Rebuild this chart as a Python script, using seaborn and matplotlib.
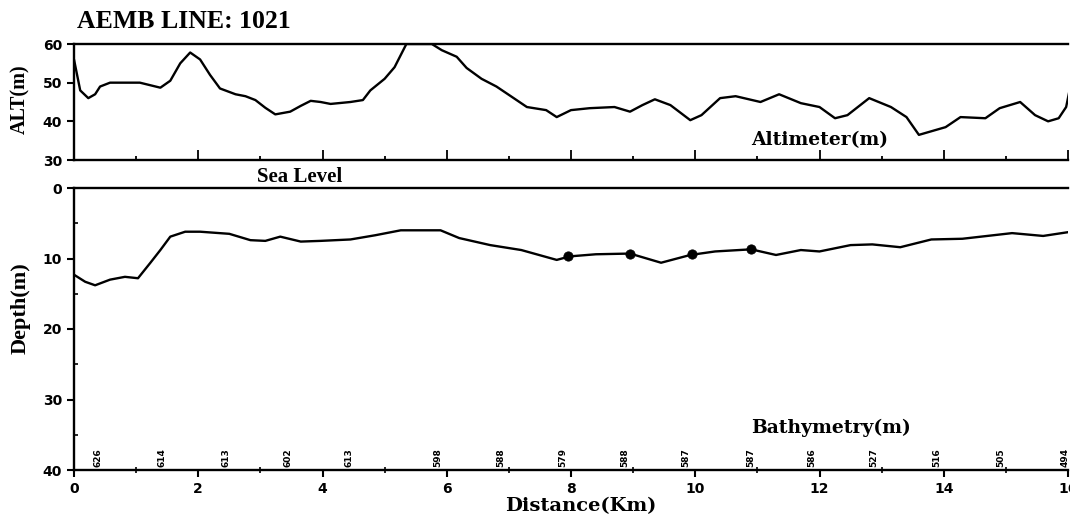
import matplotlib
matplotlib.use("Agg")
import matplotlib.pyplot as plt
from matplotlib.ticker import MultipleLocator
import pandas as pd
import seaborn as sns

# ── Data ────────────────────────────────────────────────────────────────
alt_km = [0.0, 0.1, 0.23, 0.34, 0.42, 0.58, 0.82, 1.06, 1.39, 1.55, 1.71, 1.87,
          2.03, 2.19, 2.35, 2.6, 2.76, 2.92, 3.08, 3.24, 3.48, 3.65, 3.81, 3.97,
          4.13, 4.45, 4.65, 4.77, 5.0, 5.16, 5.35, 5.6, 5.76, 5.92, 6.16, 6.32,
          6.56, 6.8, 7.05, 7.29, 7.6, 7.77, 8.0, 8.3, 8.7, 8.95, 9.15, 9.35, 9.6,
          9.92, 10.1, 10.4, 10.65, 11.05, 11.35, 11.7, 12.0, 12.25, 12.45, 12.8,
          13.15, 13.4, 13.6, 14.03, 14.27, 14.67, 14.9, 15.23, 15.47, 15.68,
          15.85, 15.97, 16.05]
alt_m = [56.0, 48.0, 46.0, 47.0, 49.0, 50.0, 50.0, 50.0, 48.7, 50.5, 55.0, 57.8,
         56.0, 52.0, 48.5, 47.0, 46.5, 45.5, 43.5, 41.8, 42.5, 44.0, 45.3, 45.0,
         44.5, 45.0, 45.5, 48.0, 51.0, 54.0, 60.0, 60.0, 60.0, 58.4, 56.7, 53.8,
         51.0, 49.0, 46.3, 43.7, 42.9, 41.1, 42.9, 43.4, 43.7, 42.5, 44.2, 45.7,
         44.2, 40.3, 41.6, 46.0, 46.5, 45.0, 47.0, 44.7, 43.7, 40.8, 41.6, 46.0,
         43.7, 41.1, 36.5, 38.5, 41.1, 40.8, 43.4, 45.0, 41.6, 40.0, 40.8, 43.7,
         50.0]

depth_km = [0.0, 0.18, 0.34, 0.58, 0.82, 1.03, 1.23, 1.39, 1.55, 1.79, 2.03,
            2.5, 2.84, 3.08, 3.32, 3.65, 3.97, 4.45, 4.85, 5.26, 5.9, 6.2, 6.7,
            7.2, 7.77, 7.98, 8.4, 8.95, 9.45, 9.92, 10.32, 10.9, 11.3, 11.7,
            12.0, 12.5, 12.85, 13.3, 13.8, 14.3, 15.1, 15.6, 16.05]
depth_m = [12.3, 13.3, 13.8, 13.0, 12.6, 12.8, 10.6, 8.8, 6.9, 6.2, 6.2, 6.5,
           7.4, 7.5, 6.9, 7.6, 7.5, 7.3, 6.7, 6.0, 6.0, 7.1, 8.1, 8.8, 10.2,
           9.7, 9.4, 9.3, 10.6, 9.5, 9.0, 8.7, 9.5, 8.8, 9.0, 8.1, 8.0, 8.4,
           7.3, 7.2, 6.4, 6.8, 6.2]

marker_km = [7.95, 8.95, 9.95, 10.9]
marker_depth = [9.6, 9.3, 9.3, 8.7]

fid_km = [0.39, 1.42, 2.44, 3.44, 4.42, 5.85, 6.87, 7.87, 8.87, 9.85, 10.89,
          11.87, 12.87, 13.89, 14.92, 15.95]
fid_labels = ["626", "614", "613", "602", "613", "598", "588", "579", "588",
              "587", "587", "586", "527", "516", "505", "494"]

alt_df = pd.DataFrame({"km": alt_km, "alt": alt_m})
dep_df = pd.DataFrame({"km": depth_km, "depth": depth_m})
mark_df = pd.DataFrame({"km": marker_km, "depth": marker_depth})

# ── Style ───────────────────────────────────────────────────────────────
sns.set_style("ticks", {"axes.edgecolor": "black", "text.color": "black",
                        "axes.labelcolor": "black", "xtick.color": "black",
                        "ytick.color": "black"})
plt.rcParams["font.family"] = ["DejaVu Sans"]
SERIF = "Liberation Serif"
SLAB = "DejaVu Serif"
LW = 1.7

fig = plt.figure(figsize=(10.7, 5.17), dpi=100)
W, H = 1070, 517
left = 74 / W
width = 1068 / W - left

ax_top = fig.add_axes([left, 1 - 160 / H, width, (160 - 44) / H])
ax_bot = fig.add_axes([left, 1 - 470 / H, width, (470 - 188) / H])

# ── Altimeter panel ─────────────────────────────────────────────────────
sns.lineplot(data=alt_df, x="km", y="alt", ax=ax_top, color="black",
             linewidth=LW, sort=False, estimator=None)
ax_top.set_xlim(0, 16)
ax_top.set_ylim(30, 60)
ax_top.set_yticks([30, 40, 50, 60])
ax_top.xaxis.set_major_locator(MultipleLocator(2))
ax_top.xaxis.set_minor_locator(MultipleLocator(1))
ax_top.tick_params(axis="x", which="major", direction="in", length=7, width=1.3,
                   labelbottom=False)
ax_top.tick_params(axis="x", which="minor", direction="in", length=3, width=1.3)
ax_top.tick_params(axis="y", direction="out", length=5, width=1.5, labelsize=10)
ax_top.set_xlabel("")
ax_top.set_ylabel("ALT(m)", fontfamily=SERIF, fontweight="bold", fontsize=14.5)
ax_top.yaxis.set_label_coords(-0.044, 0.52)
ax_top.text(10.9, 35.2, "Altimeter(m)", fontfamily=SLAB, fontweight="bold",
            fontsize=13.5, va="center", ha="left")

# ── Bathymetry panel ────────────────────────────────────────────────────
sns.lineplot(data=dep_df, x="km", y="depth", ax=ax_bot, color="black",
             linewidth=LW, sort=False, estimator=None)
sns.scatterplot(data=mark_df, x="km", y="depth", ax=ax_bot, color="black",
                s=45, edgecolor="black", zorder=5)
ax_bot.set_xlim(0, 16)
ax_bot.set_ylim(40, 0)
ax_bot.set_yticks([0, 10, 20, 30, 40])
ax_bot.yaxis.set_minor_locator(MultipleLocator(5))
ax_bot.xaxis.set_major_locator(MultipleLocator(2))
ax_bot.xaxis.set_minor_locator(MultipleLocator(1))
ax_bot.tick_params(axis="x", which="major", direction="out", length=5, width=1.5,
                   labelsize=10)
ax_bot.tick_params(axis="x", which="minor", direction="inout", length=4, width=1.2)
ax_bot.tick_params(axis="y", which="major", direction="out", length=5, width=1.5,
                   labelsize=10)
ax_bot.tick_params(axis="y", which="minor", direction="in", length=3, width=1.2)
ax_bot.set_xlabel("Distance(Km)", fontfamily=SLAB, fontweight="bold",
                  fontsize=14, labelpad=2)
ax_bot.xaxis.set_label_coords(0.51, -0.095)
ax_bot.set_ylabel("Depth(m)", fontfamily=SERIF, fontweight="bold", fontsize=16)
ax_bot.yaxis.set_label_coords(-0.044, 0.575)
ax_bot.text(10.9, 34.0, "Bathymetry(m)", fontfamily=SLAB, fontweight="bold",
            fontsize=13.5, va="center", ha="left")
ax_bot.text(2.95, -0.1, "Sea Level", fontfamily=SERIF, fontweight="bold",
            fontsize=15, va="bottom", ha="left")

for xk, lab in zip(fid_km, fid_labels):
    ax_bot.text(xk, 39.6, lab, rotation=90, fontsize=6.5, fontweight="bold",
                ha="center", va="bottom")

for ax in (ax_top, ax_bot):
    ax.spines["right"].set_visible(False)
    for side in ("left", "top", "bottom"):
        ax.spines[side].set_linewidth(1.7)
    for lab in ax.get_xticklabels() + ax.get_yticklabels():
        lab.set_fontweight("bold")
    if ax.get_legend() is not None:
        ax.get_legend().remove()

fig.text(77 / W, 1 - 22 / H, "AEMB LINE: 1021", fontfamily=SERIF,
         fontweight="bold", fontsize=18.5, va="center", ha="left")

fig.savefig("out.png", dpi=100)
